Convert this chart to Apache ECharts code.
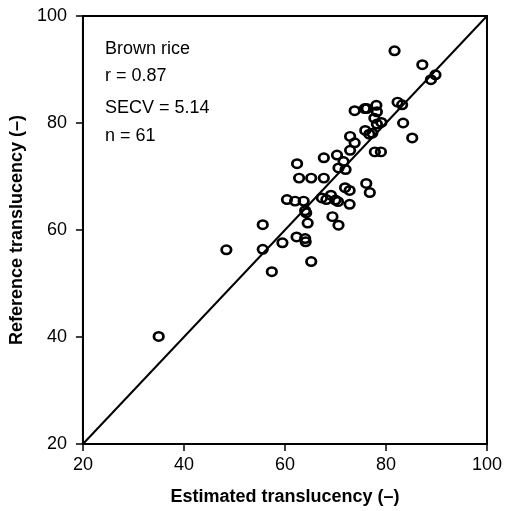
<!DOCTYPE html>
<html>
<head>
<meta charset="utf-8">
<script src="https://cdn.jsdelivr.net/npm/echarts@6/dist/echarts.min.js"></script>
<style>html,body{margin:0;padding:0;background:#fff}#c{width:505px;height:511px}</style>
</head>
<body>
<div id="c"></div>
<script>
const estimated = [35.0,48.4,55.6,55.6,57.4,59.5,60.4,62.0,63.7,62.4,62.8,65.2,62.3,64.0,64.1,64.0,64.2,64.5,65.2,67.3,68.2,69.1,67.7,67.7,69.4,70.0,70.5,70.6,70.3,70.6,71.6,72.0,71.9,72.8,72.8,72.9,72.9,73.8,73.8,75.8,76.2,78.1,78.2,77.7,78.2,79.1,75.9,76.7,77.3,77.8,79.0,76.1,76.8,81.7,82.3,83.2,83.4,85.2,87.2,88.9,89.8];
const reference = [40.1,56.3,61.0,56.4,52.2,57.6,65.7,65.4,65.4,72.4,69.7,69.7,58.7,58.4,57.8,63.6,63.2,61.3,54.1,66.0,65.7,66.5,69.7,73.5,62.5,65.6,65.3,60.9,74.0,71.6,72.8,71.3,67.9,67.4,64.8,77.5,74.9,76.3,82.3,82.7,82.7,83.3,82.1,80.9,79.8,80.1,78.6,77.9,78.1,74.6,74.6,68.7,67.0,93.5,83.9,83.4,80.0,77.2,90.9,88.1,89.0];
const lineX = [20, 100];
const lineY = [20, 100];
const xTicks = [20, 40, 60, 80, 100];
const yTicks = [20, 40, 60, 80, 100];
const annotations = ['Brown rice', 'r = 0.87', 'SECV = 5.14', 'n = 61'];
const xTitle = 'Estimated translucency (–)';
const yTitle = 'Reference translucency (–)';

const FONT = '"Liberation Sans", Arial, Helvetica, sans-serif';
const chart = echarts.init(document.getElementById('c'), null, {renderer: 'canvas'});
const pts = estimated.map((x, i) => [x, reference[i]]);
const annoY = [50, 77, 109, 137];
chart.setOption({
  animation: false,
  grid: {left: 82, right: 16, top: 16, bottom: 64, show: true, borderColor: '#000', borderWidth: 2, backgroundColor: 'transparent'},
  xAxis: {
    type: 'value', min: xTicks[0], max: xTicks[xTicks.length-1], interval: 20,
    name: xTitle, nameLocation: 'middle', nameGap: 44,
    nameTextStyle: {fontFamily: FONT, fontSize: 18, fontWeight: 'bold', color: '#000'},
    axisLine: {show: true, lineStyle: {color: '#000', width: 2}},
    axisTick: {show: true, length: 7, lineStyle: {color: '#000', width: 1.5}},
    axisLabel: {fontFamily: FONT, fontSize: 18, color: '#000', margin: 12},
    splitLine: {show: false}
  },
  yAxis: {
    type: 'value', min: yTicks[0], max: yTicks[yTicks.length-1], interval: 20,
    name: yTitle, nameLocation: 'middle', nameGap: 56,
    nameTextStyle: {fontFamily: FONT, fontSize: 18, fontWeight: 'bold', color: '#000'},
    axisLine: {show: true, lineStyle: {color: '#000', width: 2}},
    axisTick: {show: true, length: 7, lineStyle: {color: '#000', width: 1.5}},
    axisLabel: {fontFamily: FONT, fontSize: 18, color: '#000', margin: 16},
    splitLine: {show: false}
  },
  series: [
    {
      type: 'line', data: lineX.map((x, i) => [x, lineY[i]]), symbol: 'none',
      lineStyle: {color: '#000', width: 2}, z: 2
    },
    {
      type: 'scatter', data: pts, symbol: 'circle', symbolSize: [9.5, 8.5],
      itemStyle: {color: 'rgba(255,255,255,0)', borderColor: '#000', borderWidth: 2.6, opacity: 1},
      z: 3
    }
  ],
  graphic: annotations.map((t, i) => ({
    type: 'text', left: 105, top: annoY[i] - 10,
    style: {text: t, fontFamily: FONT, fontSize: 18, fill: '#000'}
  }))
});
</script>
</body>
</html>
